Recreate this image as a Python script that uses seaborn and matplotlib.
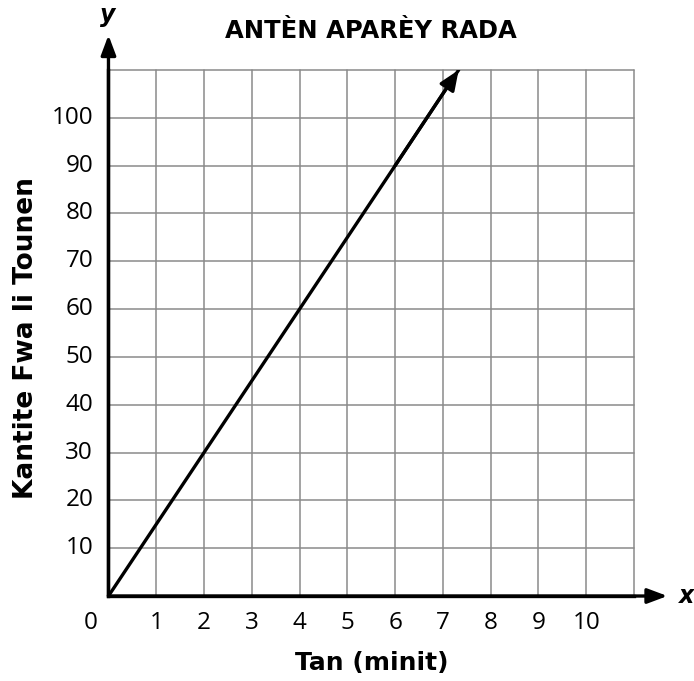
import matplotlib
matplotlib.use("Agg")
import matplotlib.pyplot as plt
import numpy as np
import pandas as pd
import seaborn as sns

# data
tan_minit = [0, 2, 4, 6, 7.33]
kantite_fwa = [0, 30, 60, 90, 110]
x_ticks = [1, 2, 3, 4, 5, 6, 7, 8, 9, 10]
y_ticks = [10, 20, 30, 40, 50, 60, 70, 80, 90, 100]

sns.set_style("white")
plt.rcParams['font.family'] = ['Open Sans', 'DejaVu Sans']
plt.rcParams['text.color'] = 'black'
bold_font = ['DejaVu Sans']

fig = plt.figure(figsize=(6.94, 6.81), dpi=100)
ax = fig.add_axes([0.1563, 0.1248, 0.7572, 0.7724])

df = pd.DataFrame({"x": tan_minit, "y": kantite_fwa})
sns.lineplot(data=df, x="x", y="y", ax=ax, color="black", linewidth=2.4)
# arrow head at the end of the line
ax.annotate("", xy=(tan_minit[-1], kantite_fwa[-1]), xytext=(tan_minit[-2], kantite_fwa[-2]),
            arrowprops=dict(arrowstyle="-|>,head_length=1.2,head_width=0.5", color="black",
                            lw=2.4, shrinkA=0, shrinkB=0), annotation_clip=False)

ax.set_xlim(0, 11)
ax.set_ylim(0, 110)
ax.set_xticks(np.arange(0, 12))
ax.set_yticks(np.arange(0, 120, 10))
ax.grid(True, color="#8a8a8a", linewidth=1.1)
for gl in ax.get_xgridlines() + ax.get_ygridlines():
    gl.set_clip_on(False)
ax.set_xticklabels([])
ax.set_yticklabels([])
ax.set_xlabel("")
ax.set_ylabel("")
ax.tick_params(length=0)
for s in ["top", "right"]:
    ax.spines[s].set_visible(False)
for s in ["left", "bottom"]:
    ax.spines[s].set_linewidth(2.4)
    ax.spines[s].set_color("black")
    ax.spines[s].set_zorder(5)

# axis arrows
ax.annotate("", xy=(11.7, 0), xytext=(0, 0), xycoords="data",
            arrowprops=dict(arrowstyle="-|>,head_length=1.2,head_width=0.45", color="black",
                            lw=2.4, shrinkA=0, shrinkB=0), annotation_clip=False)
ax.annotate("", xy=(0, 117.3), xytext=(0, 0), xycoords="data",
            arrowprops=dict(arrowstyle="-|>,head_length=1.2,head_width=0.45", color="black",
                            lw=2.4, shrinkA=0, shrinkB=0), annotation_clip=False)

# tick labels
for v in x_ticks:
    ax.text(v, -5.6, str(v), ha="center", va="center", fontsize=17.5)
for v in y_ticks:
    ax.text(-0.32, v, str(v), ha="right", va="center", fontsize=17.5)
ax.text(-0.37, -5.6, "0", ha="center", va="center", fontsize=17.5)

ax.text(11.95, 0, "x", ha="left", va="center", fontsize=17, style="italic",
        fontweight="bold", family=bold_font)
ax.text(-0.02, 121.5, "y", ha="center", va="center", fontsize=17, style="italic",
        fontweight="bold", family=bold_font)

fig.text(0.535, 0.955, "ANTÈN APARÈY RADA", ha="center", va="center", fontsize=17.5,
         fontweight="bold", family=bold_font)
fig.text(0.535, 0.027, "Tan (minit)", ha="center", va="center", fontsize=18,
         fontweight="bold", family=bold_font)
fig.text(0.038, 0.504, "Kantite Fwa li Tounen", ha="center", va="center", fontsize=19,
         fontweight="bold", family=bold_font, rotation=90)

fig.savefig("out.png", dpi=100)
